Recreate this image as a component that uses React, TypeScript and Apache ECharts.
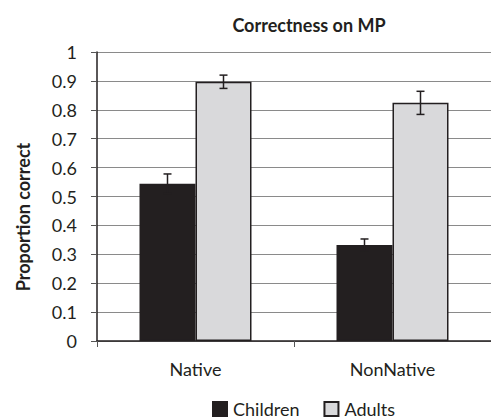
import React, { useEffect, useRef } from "react";
import * as echarts from "echarts";

const categories = ["Native", "NonNative"];
const seriesNames = ["Children", "Adults"];
const childrenValues = [0.544, 0.332];
const adultsValues = [0.897, 0.824];
const childrenErrors = [0.034, 0.021];
const adultsErrors = [0.023, 0.04];
const chartTitle = "Correctness on MP";
const yAxisTitle = "Proportion correct";

const FONT = "Lato, 'Open Sans', sans-serif";
const DARK = "#231f20";
const LIGHT = "#d9d9db";
const BAR_W = 56;

export default function App() {
  const ref = useRef<HTMLDivElement>(null);
  useEffect(() => {
    document.body.style.margin = "0";
    if (!ref.current) return;
    const chart = echarts.init(ref.current, undefined, { renderer: "svg" });
    const errData = (vals: number[], errs: number[]) =>
      vals.map((v, i) => [i, v - errs[i], v + errs[i]]);
    const errSeries = (vals: number[], errs: number[], side: number) => ({
      type: "custom",
      z: 10,
      silent: true,
      data: errData(vals, errs),
      renderItem: (params: any, api: any) => {
        const idx = api.value(0);
        const lo = api.coord([idx, api.value(1)]);
        const hi = api.coord([idx, api.value(2)]);
        const x = lo[0] + side * BAR_W / 2;
        const cap = 4;
        const style = { stroke: DARK, lineWidth: 1.5 };
        return {
          type: "group",
          children: [
            { type: "line", shape: { x1: x, y1: lo[1], x2: x, y2: hi[1] }, style },
            { type: "line", shape: { x1: x - cap, y1: lo[1], x2: x + cap, y2: lo[1] }, style },
            { type: "line", shape: { x1: x - cap, y1: hi[1], x2: x + cap, y2: hi[1] }, style },
          ],
        };
      },
    });
    chart.setOption({
      animation: false,
      textStyle: { fontFamily: FONT },
      title: {
        text: chartTitle,
        left: 304,
        top: 11,
        textAlign: "center",
        textStyle: { fontFamily: FONT, fontSize: 18, fontWeight: "bold", color: DARK },
      },
      grid: { left: 97, right: 0, top: 52, bottom: 78 },
      legend: {
        data: seriesNames,
        top: 399,
        left: 212,
        padding: 0,
        itemWidth: 14,
        itemHeight: 14,
        itemGap: 24,
        icon: "rect",
        textStyle: { fontFamily: FONT, fontSize: 18, lineHeight: 20, color: DARK, padding: [0, 0, 0, 1] },
      },
      graphic: [
        {
          type: "text",
          x: 23,
          y: 217,
          rotation: Math.PI / 2,
          style: {
            text: yAxisTitle,
            fontFamily: FONT,
            fontSize: 18,
            fontWeight: "bold",
            fill: DARK,
            align: "center",
            verticalAlign: "middle",
          },
        },
      ],
      xAxis: {
        type: "category",
        data: categories,
        axisLine: { lineStyle: { color: DARK, width: 1.5 } },
        axisTick: { show: true, length: 6, lineStyle: { color: "#555" } },
        axisLabel: { fontFamily: FONT, fontSize: 18, color: DARK, margin: 19 },
      },
      yAxis: {
        type: "value",
        min: 0,
        max: 1,
        interval: 0.1,
        axisLine: { show: true, lineStyle: { color: DARK, width: 1.5 } },
        axisTick: { show: true, length: 6, lineStyle: { color: "#555" } },
        splitLine: { lineStyle: { color: "#8a8a8a", width: 1 } },
        axisLabel: {
          fontFamily: FONT,
          fontSize: 18,
          color: DARK,
          margin: 20,
          formatter: (v: number) => String(Math.round(v * 10) / 10),
        },
      },
      series: [
        {
          name: seriesNames[0],
          type: "bar",
          data: childrenValues,
          barWidth: BAR_W,
          barGap: "0%",
          itemStyle: { color: DARK, borderColor: DARK, borderWidth: 1.5 },
        },
        {
          name: seriesNames[1],
          type: "bar",
          data: adultsValues,
          barWidth: BAR_W,
          barGap: "0%",
          itemStyle: { color: LIGHT, borderColor: DARK, borderWidth: 1.5 },
        },
        errSeries(childrenValues, childrenErrors, -1),
        errSeries(adultsValues, adultsErrors, 1),
      ],
    });
    return () => chart.dispose();
  }, []);
  return <div ref={ref} style={{ width: 491, height: 419 }} />;
}
